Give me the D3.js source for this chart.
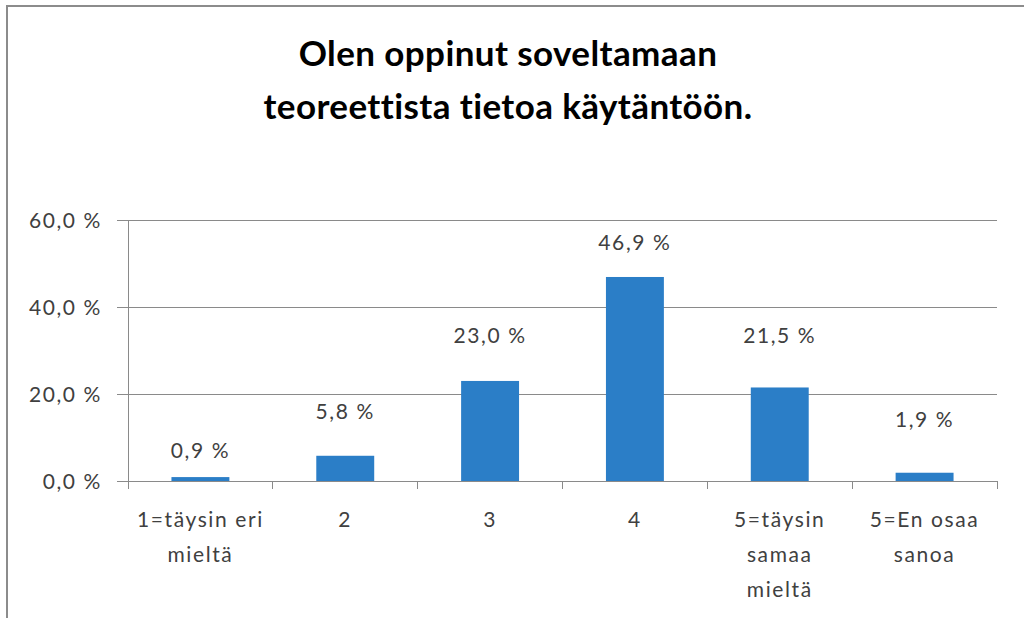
<!DOCTYPE html>
<html>
<head>
<meta charset="utf-8">
<script src="https://cdn.jsdelivr.net/npm/d3@7"></script>
<style>
  body { margin: 0; background: #fff; }
  svg { display: block; }
  .lbl { font-family: Lato, "Open Sans", sans-serif; font-size: 21px; fill: #404040; letter-spacing: 1.6px; }
  .title { font-family: Lato, "Open Sans", sans-serif; font-size: 35px; font-weight: bold; fill: #000; letter-spacing: 0.4px; }
</style>
</head>
<body>
<svg id="chart" width="1024" height="618"></svg>
<script>
// chart data
const titleLines = ['Olen oppinut soveltamaan', 'teoreettista tietoa käytäntöön.'];
const categories = ['1=täysin eri mieltä', '2', '3', '4', '5=täysin samaa mieltä', '5=En osaa sanoa'];
const categoryLines = [['1=täysin eri', 'mieltä'], ['2'], ['3'], ['4'], ['5=täysin', 'samaa', 'mieltä'], ['5=En osaa', 'sanoa']];
const values = [0.9, 5.8, 23.0, 46.9, 21.5, 1.9];
const yTicks = [0, 20, 40, 60];

const svg = d3.select('#chart');
const width = 1024;
const height = 618;
const margin = { top: 220, right: 27, bottom: 137, left: 128 };
const barColour = '#2b7ec7';
const gridColour = '#8a8a8a';

// labels were nudged by hand in the original, so keep their lift per bar
const labelLift = [27, 44, 46, 35, 52, 53];

const fmt = v => d3.format('.1f')(v).replace('.', ',') + ' %';

// outer frame (only top and left edges are in view)
svg.append('path')
  .attr('d', `M7,${height} V6 H${width}`)
  .attr('fill', 'none')
  .attr('stroke', '#8c8c8c')
  .attr('stroke-width', 2);

const x = d3.scaleBand()
  .domain(categories)
  .range([margin.left, width - margin.right])
  .paddingInner(0.6)
  .paddingOuter(0.3);

const y = d3.scaleLinear()
  .domain([0, 60])
  .range([height - margin.bottom, margin.top]);

// title
svg.append('text')
  .attr('class', 'title')
  .attr('text-anchor', 'middle')
  .selectAll('tspan')
  .data(titleLines)
  .join('tspan')
  .attr('x', 508)
  .attr('y', (d, i) => 66 + i * 53)
  .text(d => d);

// gridlines + y axis
const yAxis = d3.axisLeft(y)
  .tickValues(yTicks)
  .tickSize(-(width - margin.right - margin.left))
  .tickPadding(26)
  .tickFormat(fmt);

const gy = svg.append('g')
  .attr('transform', `translate(${margin.left},0)`)
  .call(yAxis);
gy.select('.domain').remove();
gy.selectAll('.tick line')
  .attr('x1', -11)
  .attr('stroke', gridColour)
  .attr('shape-rendering', 'crispEdges');
gy.selectAll('.tick text')
  .attr('class', 'lbl')
  .attr('fill', null)
  .attr('dy', '0.36em');
gy.attr('font-family', null).attr('font-size', null);

svg.append('line')
  .attr('x1', margin.left).attr('x2', margin.left)
  .attr('y1', y(60)).attr('y2', y(0) + 8)
  .attr('stroke', gridColour)
  .attr('shape-rendering', 'crispEdges');

// x axis ticks sit on category boundaries
const step = (width - margin.right - margin.left) / categories.length;
svg.append('g')
  .selectAll('line')
  .data(d3.range(categories.length + 1))
  .join('line')
  .attr('x1', i => margin.left + i * step)
  .attr('x2', i => margin.left + i * step)
  .attr('y1', y(0))
  .attr('y2', y(0) + 8)
  .attr('stroke', gridColour)
  .attr('shape-rendering', 'crispEdges');

// bars
svg.append('g')
  .selectAll('rect')
  .data(values)
  .join('rect')
  .attr('x', (d, i) => x(categories[i]))
  .attr('y', d => y(d))
  .attr('width', x.bandwidth())
  .attr('height', d => y(0) - y(d))
  .attr('fill', barColour);

// data labels
svg.append('g')
  .selectAll('text')
  .data(values)
  .join('text')
  .attr('class', 'lbl')
  .attr('text-anchor', 'middle')
  .attr('x', (d, i) => x(categories[i]) + x.bandwidth() / 2)
  .attr('y', (d, i) => y(d) - labelLift[i])
  .attr('dy', '0.36em')
  .text(fmt);

// category labels
const cat = svg.append('g')
  .selectAll('text')
  .data(categories)
  .join('text')
  .attr('class', 'lbl')
  .attr('text-anchor', 'middle');
cat.selectAll('tspan')
  .data((d, i) => categoryLines[i].map(t => ({ t, c: d })))
  .join('tspan')
  .attr('x', d => x(d.c) + x.bandwidth() / 2)
  .attr('y', (d, i) => y(0) + 46 + i * 35)
  .text(d => d.t);
</script>
</body>
</html>
